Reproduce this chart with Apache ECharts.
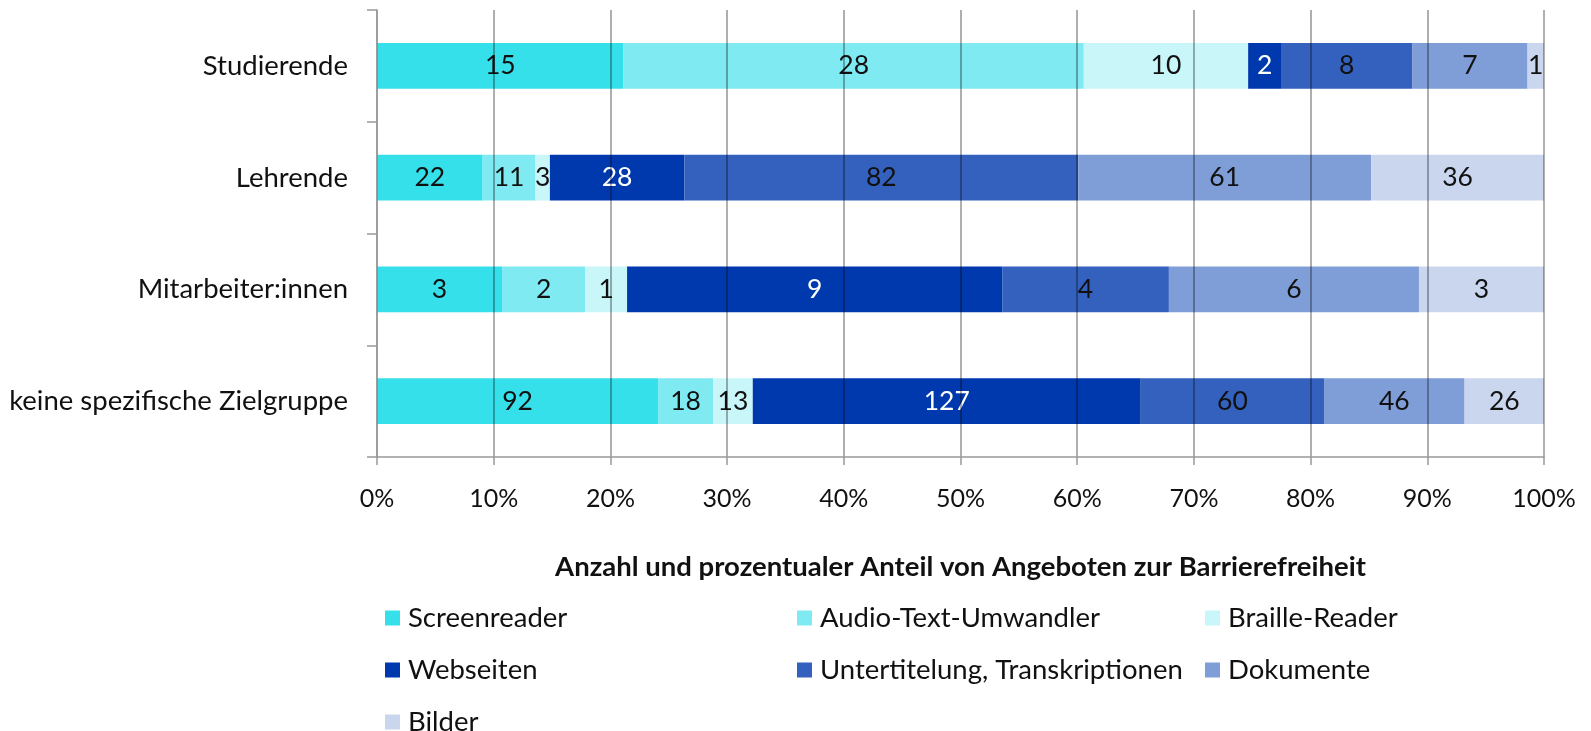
<!DOCTYPE html>
<html>
<head>
<meta charset="utf-8">
<script src="https://cdn.jsdelivr.net/npm/echarts@6/dist/echarts.min.js"></script>
<style>html,body{margin:0;padding:0;background:#fff}#c{width:1591px;height:731px}</style>
</head>
<body>
<div id="c"></div>
<script>
var categories = ['Studierende', 'Lehrende', 'Mitarbeiter:innen', 'keine spezifische Zielgruppe'];
var seriesNames = ['Screenreader', 'Audio-Text-Umwandler', 'Braille-Reader', 'Webseiten', 'Untertitelung, Transkriptionen', 'Dokumente', 'Bilder'];
var screenreader = [15, 22, 3, 92];
var audioText = [28, 11, 2, 18];
var braille = [10, 3, 1, 13];
var webseiten = [2, 28, 9, 127];
var untertitelung = [8, 82, 4, 60];
var dokumente = [7, 61, 6, 46];
var bilder = [1, 36, 3, 26];
var xTickLabels = ['0%', '10%', '20%', '30%', '40%', '50%', '60%', '70%', '80%', '90%', '100%'];
var axisTitle = 'Anzahl und prozentualer Anteil von Angeboten zur Barrierefreiheit';

var colors = ['#35E0EB', '#80EAF3', '#C8F6F9', '#0039AD', '#3461BE', '#7F9DD7', '#C9D6EE'];
var labelColors = ['#111', '#111', '#111', '#fff', '#111', '#111', '#111'];
var counts = [screenreader, audioText, braille, webseiten, untertitelung, dokumente, bilder];

var totals = categories.map(function (c, i) {
  return counts.reduce(function (s, arr) { return s + arr[i]; }, 0);
});

var FONT = 'Lato, "Open Sans", sans-serif';

var series = seriesNames.map(function (name, k) {
  return {
    name: name,
    type: 'bar',
    stack: 'total',
    barWidth: '41%',
    itemStyle: { color: colors[k] },
    label: {
      show: true,
      position: 'inside',
      color: labelColors[k],
      fontFamily: FONT,
      fontSize: 26.5,
      formatter: function (p) { return counts[k][p.dataIndex]; }
    },
    data: counts[k].map(function (v, i) { return v / totals[i] * 100; })
  };
});

function legendFor(names, left) {
  return {
    orient: 'vertical',
    left: left,
    top: 599,
    height: 200,
    data: names,
    icon: 'rect',
    itemWidth: 15,
    itemHeight: 15,
    itemGap: 24,
    selectedMode: false,
    textStyle: { fontFamily: FONT, fontSize: 27.5, color: '#111', lineHeight: 28, padding: [0, 0, 0, 3] }
  };
}

var chart = echarts.init(document.getElementById('c'), null, { renderer: 'canvas' });
chart.setOption({
  animation: false,
  backgroundColor: '#fff',
  grid: { left: 377, right: 47, top: 10, bottom: 274, containLabel: false },
  legend: [
    legendFor([seriesNames[0], seriesNames[3], seriesNames[6]], 380),
    legendFor([seriesNames[1], seriesNames[4]], 792),
    legendFor([seriesNames[2], seriesNames[5]], 1200)
  ],
  xAxis: {
    type: 'value',
    min: 0,
    max: 100,
    interval: 10,
    z: 5,
    axisLine: { show: true, lineStyle: { color: '#999', width: 1.5 } },
    axisTick: { show: true, length: 8, lineStyle: { color: '#999', width: 1.5 } },
    splitLine: { show: true, lineStyle: { color: 'rgba(0,0,0,0.42)', width: 1.5 } },
    axisLabel: {
      margin: 29,
      fontFamily: FONT,
      fontSize: 25,
      color: '#111',
      formatter: function (v) { return xTickLabels[Math.round(v / 10)]; }
    },
    name: axisTitle,
    nameLocation: 'middle',
    nameGap: 96,
    nameTextStyle: { fontFamily: FONT, fontSize: 27.5, fontWeight: 'bold', color: '#111' }
  },
  yAxis: {
    type: 'category',
    data: categories,
    inverse: true,
    z: 5,
    axisLine: { show: true, lineStyle: { color: '#999', width: 1.5 } },
    axisTick: { show: true, length: 10, lineStyle: { color: '#999', width: 1.5 } },
    axisLabel: { margin: 29, fontFamily: FONT, fontSize: 27.5, color: '#111' }
  },
  series: series
});
</script>
</body>
</html>
